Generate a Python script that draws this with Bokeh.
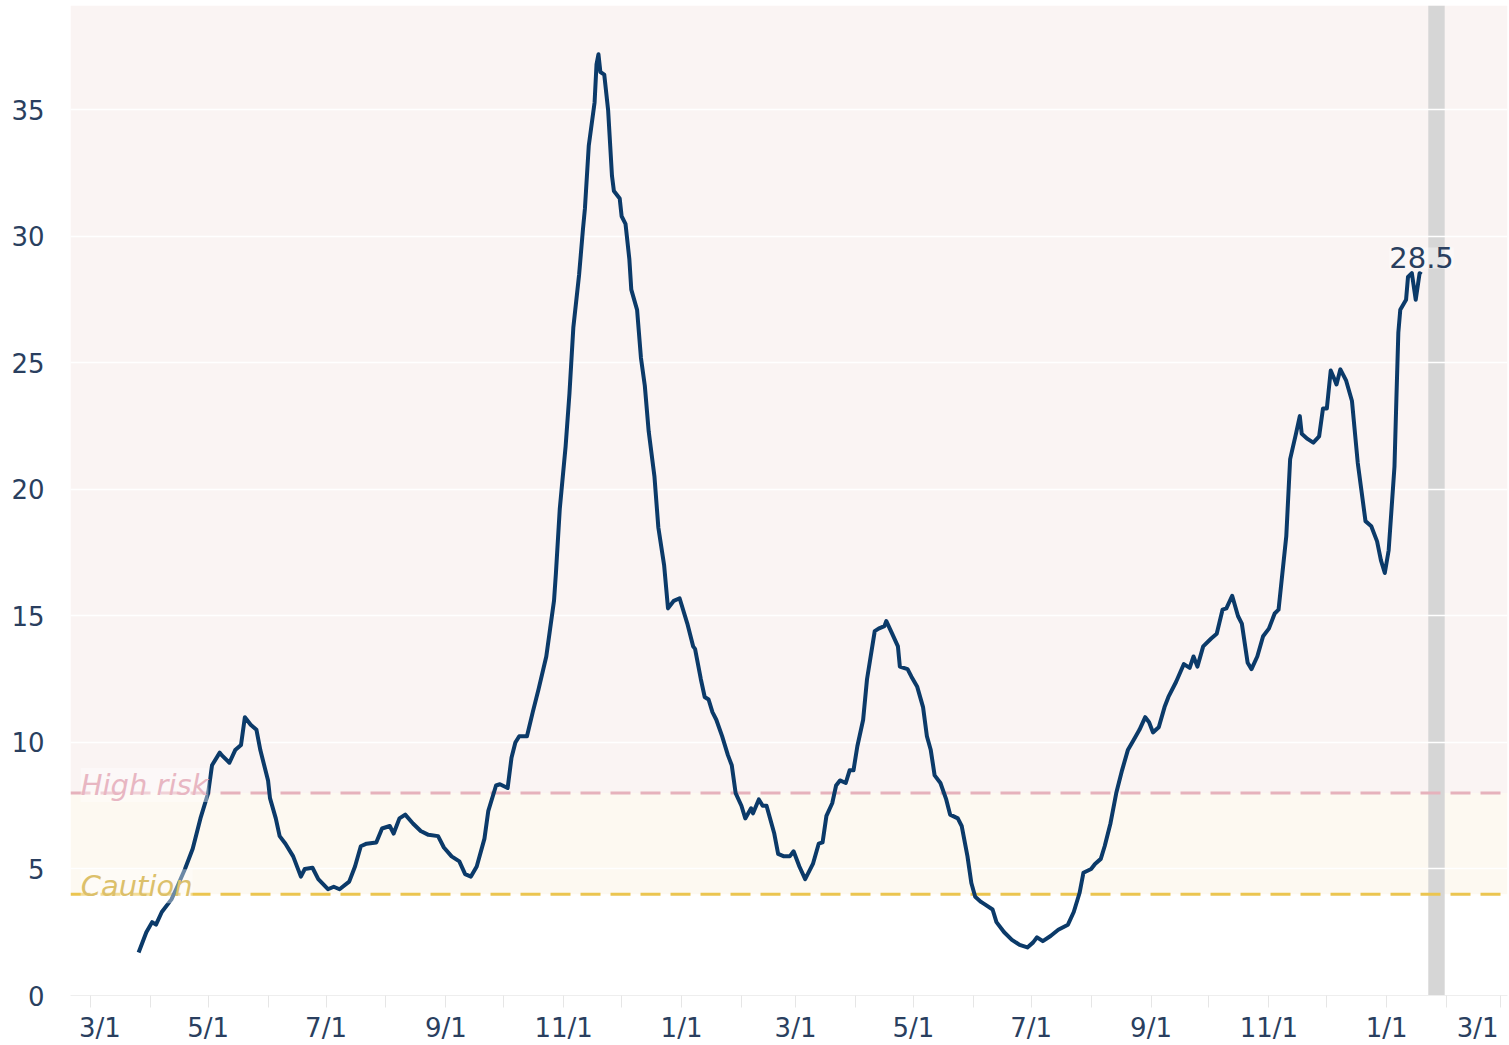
import pandas as pd
from bokeh.plotting import figure
from bokeh.models import Range1d, FixedTicker, BoxAnnotation, Span, Label, ColumnDataSource
from bokeh.embed import file_html
from bokeh.resources import INLINE

# ---------------- data ----------------
base_date = "2020-03-01"
day_offsets = [25, 29, 32, 34, 37, 42, 45, 49, 53, 57, 61, 63, 67, 68, 72, 75, 78, 80, 83, 86,
               88, 92, 93, 96, 98, 101, 105, 109, 111, 115, 118, 123, 126, 129, 134, 137, 140, 143, 148, 151,
               155, 157, 160, 163, 167, 171, 175, 180, 183, 187, 191, 194, 197, 200, 204, 206, 210, 212, 216, 218,
               220, 222, 226, 229, 232, 236, 238, 240, 241, 243, 246, 248, 250, 253, 255, 256, 258, 261, 262, 263,
               264, 266, 268, 270, 271, 274, 275, 277, 279, 280, 283, 285, 287, 289, 292, 294, 297, 299, 302, 305,
               309, 312, 313, 316, 318, 320, 322, 324, 327, 330, 332, 334, 337, 339, 342, 343, 346, 348, 350, 354,
               356, 359, 362, 364, 367, 370, 374, 377, 379, 381, 384, 386, 388, 391, 393, 395, 397, 400, 402, 406,
               408, 411, 412, 415, 418, 419, 423, 425, 428, 431, 433, 435, 437, 440, 443, 445, 449, 451, 454, 456,
               458, 461, 463, 467, 469, 473, 477, 481, 485, 488, 490, 493, 497, 501, 506, 509, 512, 514, 518, 520,
               523, 525, 528, 531, 534, 537, 540, 543, 546, 548, 550, 553, 556, 558, 562, 566, 569, 571, 573, 576,
               580, 583, 586, 588, 591, 594, 596, 599, 601, 604, 607, 610, 613, 615, 619, 621, 624, 626, 627, 630,
               633, 636, 638, 640, 642, 644, 645, 647, 650, 653, 656, 658, 660, 663, 666, 668, 670, 672, 675, 676,
               677, 678, 681, 682, 684, 686, 688, 689]
values = [1.7, 2.5, 2.9, 2.8, 3.3, 3.8, 4.3, 5.0, 5.8, 7.0, 8.0, 9.1, 9.6, 9.5, 9.2, 9.7, 9.9, 11.0, 10.7, 10.5,
          9.7, 8.5, 7.8, 7.0, 6.3, 6.0, 5.5, 4.7, 5.0, 5.05, 4.6, 4.2, 4.3, 4.2, 4.5, 5.1, 5.9, 6.0, 6.05, 6.6,
          6.7, 6.4, 7.0, 7.15, 6.8, 6.5, 6.35, 6.3, 5.85, 5.5, 5.3, 4.8, 4.7, 5.1, 6.2, 7.3, 8.3, 8.35, 8.2, 9.4,
          10.0, 10.25, 10.25, 11.2, 12.1, 13.4, 14.5, 15.6, 16.7, 19.25, 21.7, 23.8, 26.4, 28.5, 30.3, 31.1, 33.6, 35.3, 36.8, 37.2,
          36.5, 36.4, 35.0, 32.4, 31.8, 31.5, 30.8, 30.5, 29.1, 27.9, 27.1, 25.2, 24.1, 22.3, 20.5, 18.5, 17.0, 15.3, 15.6, 15.7,
          14.7, 13.8, 13.7, 12.5, 11.8, 11.7, 11.2, 10.9, 10.25, 9.5, 9.1, 8.0, 7.5, 7.0, 7.4, 7.2, 7.75, 7.5, 7.5, 6.4,
          5.6, 5.5, 5.5, 5.7, 5.1, 4.6, 5.2, 6.0, 6.05, 7.1, 7.6, 8.3, 8.5, 8.4, 8.9, 8.9, 9.85, 10.9, 12.5, 14.4,
          14.5, 14.6, 14.8, 14.3, 13.8, 13.0, 12.9, 12.6, 12.2, 11.4, 10.25, 9.7, 8.7, 8.4, 7.75, 7.15, 7.0, 6.7, 5.5, 4.45,
          3.9, 3.7, 3.6, 3.4, 2.9, 2.5, 2.2, 2.0, 1.9, 2.1, 2.3, 2.15, 2.35, 2.6, 2.8, 3.3, 4.05, 4.85, 5.0, 5.2,
          5.4, 5.9, 6.8, 8.0, 8.9, 9.7, 10.1, 10.5, 11.0, 10.8, 10.4, 10.6, 11.4, 11.8, 12.4, 13.1, 12.95, 13.4, 13.0, 13.8,
          14.1, 14.3, 15.25, 15.3, 15.8, 15.0, 14.7, 13.15, 12.9, 13.4, 14.2, 14.5, 15.1, 15.25, 18.15, 21.2, 22.2, 22.9, 22.2, 22.0,
          21.85, 22.1, 23.2, 23.2, 24.7, 24.35, 24.15, 24.75, 24.3, 23.5, 21.05, 19.9, 18.75, 18.55, 17.95, 17.2, 16.7, 17.6, 20.9, 23.6,
          26.2, 27.1, 27.5, 28.4, 28.55, 27.5, 28.55, 28.5]

caution_level = 4
high_risk_level = 8
level_labels = ["Caution", "High risk"]
shade_start = "2022-01-22 12:00"
shade_end = "2022-01-31"
y_ticks = [0, 5, 10, 15, 20, 25, 30, 35]
tick_months = list(pd.date_range("2020-03-01", "2022-03-01", freq="MS"))
label_months = [m for m in tick_months if m.month % 2 == 1]

# ---------------- helpers ----------------
def ms(t):
    return int(pd.Timestamp(t).value // 1_000_000)

DAY = 86_400_000
dates = pd.Timestamp(base_date) + pd.to_timedelta(day_offsets, unit="D")
src = ColumnDataSource(dict(date=dates, value=values))

TEXT = "#2a3f5f"
FONT = "DejaVu Sans"

p = figure(x_axis_type="datetime",
           frame_width=1437, frame_height=990,
           min_border_left=70, min_border_right=2, min_border_top=5, min_border_bottom=30,
           x_range=Range1d(ms("2020-02-19 18:00"), ms("2022-03-04 12:00")),
           y_range=Range1d(0, 39.13),
           output_backend="svg", toolbar_location=None,
           background_fill_color="white", border_fill_color="white",
           outline_line_color=None)

# background bands and shaded period (below the grid)
p.add_layout(BoxAnnotation(bottom=high_risk_level, fill_color="#FAF4F3", fill_alpha=1.0,
                           line_color=None, level="image"))
p.add_layout(BoxAnnotation(bottom=caution_level, top=high_risk_level, fill_color="#FDF9F1",
                           fill_alpha=1.0, line_color=None, level="image"))
p.add_layout(BoxAnnotation(left=ms(shade_start), right=ms(shade_end), fill_color="#D6D6D6",
                           fill_alpha=1.0, line_color=None, level="image"))

# grid
p.xgrid.grid_line_color = None
p.ygrid.ticker = FixedTicker(ticks=y_ticks)
p.ygrid.grid_line_color = "white"
p.ygrid.grid_line_width = 1.5

# threshold lines
p.add_layout(Span(location=high_risk_level, dimension="width", line_color="#E6B2BC",
                  line_width=3, line_dash="20 10", level="underlay"))
p.add_layout(Span(location=caution_level, dimension="width", line_color="#EBC550",
                  line_width=3, line_dash="20 10", level="underlay"))

# main line
p.line("date", "value", source=src, line_color="#0B3A69", line_width=4, line_join="round")

# labels
label_x = ms(pd.Timestamp(base_date) - pd.Timedelta(days=5))
p.add_layout(Label(x=label_x, y=high_risk_level,
                   text=level_labels[1], y_offset=8, text_baseline="alphabetic",
                   text_font=FONT, text_font_style="italic", text_font_size="29px",
                   text_color="#E8B6C2", background_fill_color="white", background_fill_alpha=0.4))
p.add_layout(Label(x=label_x, y=caution_level,
                   text=level_labels[0], y_offset=8, text_baseline="alphabetic",
                   text_font=FONT, text_font_style="italic", text_font_size="29px",
                   text_color="#DCC06A", background_fill_color="white", background_fill_alpha=0.4))
p.add_layout(Label(x=ms(dates[-1]), y=values[-1], text=f"{values[-1]:.1f}", y_offset=6,
                   text_align="center", text_baseline="bottom",
                   text_font=FONT, text_font_size="29px", text_color=TEXT,
                   background_fill_color="white", background_fill_alpha=0.4))

# x axis: monthly minor tick marks, labels every two months
label_pos = []
overrides = {}
for i, m in enumerate(label_months):
    pos = ms(m)
    if i == 0:
        pos += 5 * DAY
    elif i == len(label_months) - 1:
        pos -= 12 * DAY
    label_pos.append(pos)
    overrides[pos] = f"{m.month}/1"

xa = p.xaxis[0]
xa.ticker = FixedTicker(ticks=label_pos, minor_ticks=[ms(m) for m in tick_months])
xa.major_label_overrides = overrides
xa.major_tick_line_color = None
xa.minor_tick_line_color = "#E6E6E6"
xa.minor_tick_out = 12
xa.minor_tick_in = 0
xa.axis_line_color = "#EEEEEE"
xa.major_label_standoff = 5
xa.major_label_text_font = FONT
xa.major_label_text_font_size = "26px"
xa.major_label_text_color = TEXT

ya = p.yaxis[0]
ya.ticker = FixedTicker(ticks=y_ticks)
ya.major_tick_line_color = None
ya.minor_tick_line_color = None
ya.axis_line_color = None
ya.major_label_standoff = 20
ya.major_label_text_font = FONT
ya.major_label_text_font_size = "26px"
ya.major_label_text_color = TEXT

open("out.html", "w").write(file_html(p, INLINE))
